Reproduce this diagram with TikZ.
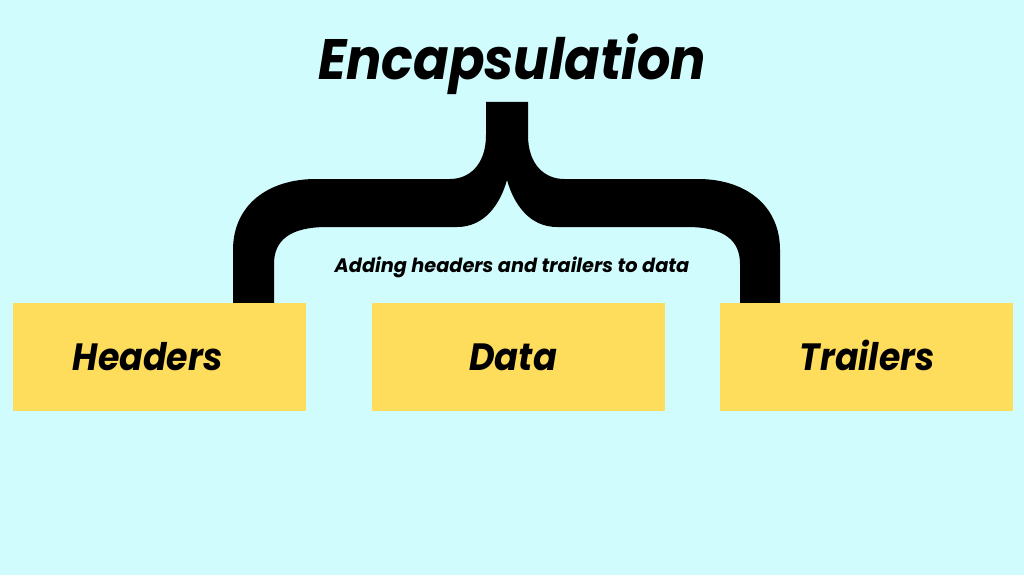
\documentclass[tikz,border=0pt]{standalone}
\usepackage{graphicx}
\usepackage{fontspec}
\setmainfont{Poppins}
\definecolor{bgcyan}{RGB}{208,252,253}
\definecolor{boxyellow}{RGB}{255,221,92}
\begin{document}
\begin{tikzpicture}[x=1pt,y=-1pt,
  labelbox/.style={fill=boxyellow, draw=none, minimum width=293pt, minimum height=108pt, inner sep=0pt},
  bigtxt/.style={font=\fontsize{38}{40}\selectfont\bfseries\itshape, inner sep=0pt},
  titletxt/.style={font=\fontsize{57}{60}\selectfont\bfseries\itshape, inner sep=0pt},
  smalltxt/.style={font=\fontsize{19.5}{22}\selectfont\bfseries\itshape, inner sep=0pt}]
\fill[bgcyan] (0,0) rectangle (1024,575);
\useasboundingbox (0,0) rectangle (1024,575);
% brace
\fill[black] (486,102) -- (528,102) -- (528,135)
  .. controls (528,165) and (545,179) .. (564,179)
  -- (698,179)
  .. controls (745,179) and (780,205) .. (780,250)
  -- (780,303) -- (740,303) -- (740,264)
  .. controls (740,241) and (725,227) .. (687,227)
  -- (557,227)
  .. controls (530,227) and (514,205) .. (507,180)
  .. controls (500,205) and (484,227) .. (457,227)
  -- (327,227)
  .. controls (289,227) and (274,241) .. (274,264)
  -- (274,303) -- (233,303) -- (233,250)
  .. controls (233,205) and (268,179) .. (316,179)
  -- (450,179)
  .. controls (469,179) and (486,165) .. (486,135) -- cycle;
% boxes
\node[labelbox, anchor=north west] (hdr) at (13,303) {};
\node[labelbox, anchor=north west] (dat) at (372,303) {};
\node[labelbox, anchor=north west] (trl) at (720,303) {};
\node[bigtxt, anchor=base] (hdrt) at ([xshift=-12pt]hdr.center |- 0,370) {\scalebox{0.915}[1]{Headers}};
\node[bigtxt, anchor=base] (datt) at ([xshift=-5.5pt]dat.center |- 0,370) {\scalebox{0.925}[1]{Data}};
\node[bigtxt, anchor=base] (trlt) at ([xshift=0.5pt]trl.center |- 0,370) {\scalebox{0.91}[1]{Trailers}};
\node[titletxt, anchor=base] (title) at (512,80) {\scalebox{0.92}[1]{Encapsulation}};
\node[smalltxt, anchor=base] (sub) at (512,272) {\scalebox{0.99}[1]{Adding headers and trailers to data}};
\end{tikzpicture}
\end{document}
